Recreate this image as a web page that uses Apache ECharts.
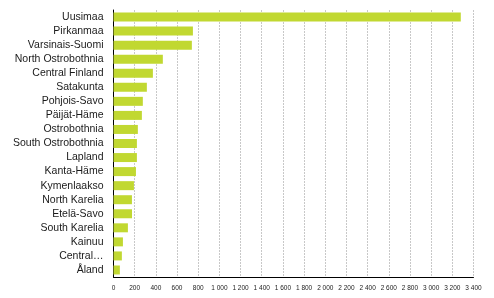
<!DOCTYPE html>
<html>
<head>
<meta charset="utf-8">
<script src="https://cdn.jsdelivr.net/npm/echarts@6/dist/echarts.min.js"></script>
<style>html,body{margin:0;padding:0;background:#fff}#c{width:494px;height:298px}</style>
</head>
<body>
<div id="c"></div>
<script>
var categories = ["Uusimaa","Pirkanmaa","Varsinais-Suomi","North Ostrobothnia","Central Finland","Satakunta","Pohjois-Savo","Päijät-Häme","Ostrobothnia","South Ostrobothnia","Lapland","Kanta-Häme","Kymenlaakso","North Karelia","Etelä-Savo","South Karelia","Kainuu","Central Ostrobothnia","Åland"];
var values = [3280,750,740,466,372,315,277,268,230,221,221,212,193,174,175,136,89,79,60];
var xTicks = {min:0, max:3400, interval:200};

var chart = echarts.init(document.getElementById('c'), null, {renderer:'canvas'});
chart.setOption({
  animation:false,
  grid:{left:113.5, right:20.5, top:10, bottom:21, containLabel:false},
  xAxis:{
    type:'value', min:xTicks.min, max:xTicks.max, interval:xTicks.interval,
    axisLine:{show:true, lineStyle:{color:'#000', width:1}},
    axisTick:{show:false},
    splitLine:{show:true, lineStyle:{color:'#c8c8c8', type:[2,1], width:1}},
    axisLabel:{fontFamily:'Liberation Sans, Arial', fontSize:6.5, color:'#222', margin:8,
      formatter:function(v){return String(v).replace(/\B(?=(\d{3})+(?!\d))/g,' ');}}
  },
  yAxis:{
    type:'category', data:categories, inverse:true,
    axisLine:{show:true, lineStyle:{color:'#000', width:1}},
    axisTick:{show:false},
    axisLabel:{interval:0, fontFamily:'Liberation Sans, Arial', fontSize:10.5, color:'#1a1a1a', margin:10,
      formatter:function(v){return v.length>19 ? v.split(' ')[0]+'…' : v;}}
  },
  series:[{type:'bar', data:values, barCategoryGap:'36%', itemStyle:{color:'#c1d831'}}]
});
</script>
</body>
</html>
